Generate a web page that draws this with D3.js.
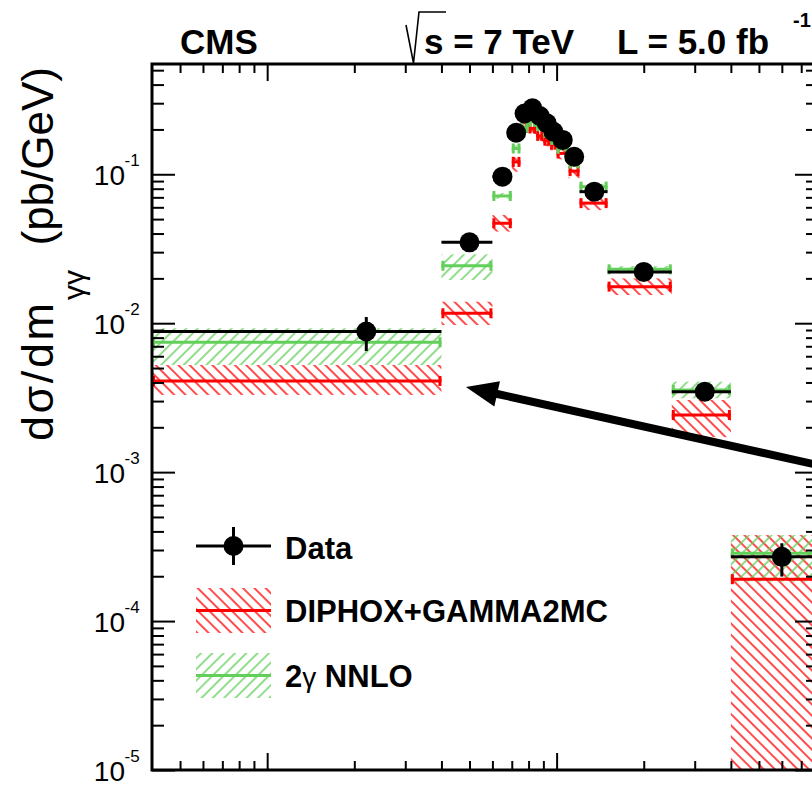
<!DOCTYPE html>
<html>
<head>
<meta charset="utf-8">
<script src="https://cdn.jsdelivr.net/npm/d3@7"></script>
<style>
  html, body { margin: 0; padding: 0; background: #fff; }
  svg { display: block; font-family: "Liberation Sans", Arial, Helvetica, sans-serif; }
</style>
</head>
<body>
<div id="chart"></div>
<script>
// ---------------- data ----------------
const binLo = [0, 40, 60, 70, 75, 80, 85, 90, 95, 100, 110, 120, 150, 250, 400];
const binHi = [40, 60, 70, 75, 80, 85, 90, 95, 100, 110, 120, 150, 250, 400, 800];
const dataX = [22, 50, 65, 72.5, 77.5, 82.5, 87.5, 92.5, 97.5, 105, 115, 135, 200, 325, 600];
const dataY = [8.8e-3, 0.0349, 0.0964, 0.190, 0.256, 0.277, 0.246, 0.220, 0.193, 0.170, 0.131, 0.0764, 0.0221, 3.47e-3, 2.70e-4];
const dataLo = [6.5e-3, 0.032, 0.089, 0.177, 0.240, 0.260, 0.231, 0.206, 0.180, 0.159, 0.122, 0.071, 0.0205, 3.06e-3, 1.99e-4];
const dataHi = [1.1e-2, 0.038, 0.104, 0.204, 0.273, 0.295, 0.262, 0.235, 0.206, 0.182, 0.141, 0.082, 0.0238, 3.9e-3, 3.33e-4];

const diphox   = [4.09e-3, 0.01166, 0.0469, 0.121, 0.205, 0.203, 0.181, 0.168, 0.158, 0.138, 0.105, 0.064, 0.0176, 2.42e-3, 1.91e-4];
const diphoxLo = [3.30e-3, 0.00973, 0.0412, 0.104, 0.188, 0.186, 0.166, 0.154, 0.145, 0.126, 0.094, 0.0575, 0.01545, 1.72e-3, 0];
const diphoxHi = [5.24e-3, 0.01394, 0.0533, 0.131, 0.222, 0.220, 0.196, 0.182, 0.171, 0.150, 0.115, 0.0697, 0.0200, 3.05e-3, 3.78e-4];

const nnlo   = [7.45e-3, 0.0243, 0.0715, 0.149, 0.205, 0.225, 0.210, 0.190, 0.170, 0.148, 0.118, 0.0826, 0.0230, 3.56e-3, 2.85e-4];
const nnloLo = [5.24e-3, 0.0195, 0.0685, 0.142, 0.196, 0.215, 0.200, 0.181, 0.162, 0.141, 0.112, 0.0790, 0.0219, 3.13e-3, 1.84e-4];
const nnloHi = [9.25e-3, 0.0290, 0.0750, 0.156, 0.214, 0.236, 0.220, 0.199, 0.178, 0.155, 0.124, 0.0862, 0.0242, 4.05e-3, 3.78e-4];

const xMajor = [10, 100];
const xMinor = [5, 6, 7, 8, 9, 20, 30, 40, 50, 60, 70, 80, 90, 200, 300, 400, 500, 600, 700];
const yMajor = [1e-5, 1e-4, 1e-3, 1e-2, 1e-1];
const yMajorExp = ["-5", "-4", "-3", "-2", "-1"];
const yMinorMult = [2, 3, 4, 5, 6, 7, 8, 9];

const legendLabels = ["Data", "DIPHOX+GAMMA2MC", "2γ NNLO"];
// annotation arrow (data coordinates): tail -> tip
const arrowTail = [881, 1.07e-3];
const arrowTip = [48.6, 3.73e-3];

// ---------------- layout ----------------
const W = 812, H = 789;
const L = 152, R = 818, T = 64, B = 770;
const RED = "#ff0000", GREEN = "#62cf5a";

const x = d3.scaleLog().domain([4, 800]).range([L, R]);
const y = d3.scaleLog().domain([1e-5, 0.55]).range([B, T]);
const yMinor = [];
for (let k = -5; k <= -1; k++) yMinorMult.forEach(m => { const v = m * Math.pow(10, k); if (v < 0.55) yMinor.push(v); });

const svg = d3.select("#chart").append("svg").attr("width", W).attr("height", H);
const defs = svg.append("defs");
function hatch(id, color, angle) {
  const p = defs.append("pattern").attr("id", id).attr("patternUnits", "userSpaceOnUse")
    .attr("width", 8).attr("height", 8).attr("patternTransform", `rotate(${angle})`);
  p.append("line").attr("x1", 4).attr("y1", -1).attr("x2", 4).attr("y2", 9)
    .attr("stroke", color).attr("stroke-width", 1.4);
}
hatch("hRed", RED, -45);
hatch("hGreen", GREEN, 45);
defs.append("clipPath").attr("id", "plotClip").append("rect")
  .attr("x", L).attr("y", T).attr("width", R - L).attr("height", B - T);

const xc = v => x(Math.max(v, 4));
const yc = v => y(Math.max(v, 1e-7));

const plot = svg.append("g").attr("clip-path", "url(#plotClip)");
const idx = d3.range(binLo.length);

// bands
function band(lo, hi, fill) {
  plot.append("g").selectAll("rect").data(idx).join("rect")
    .attr("x", i => xc(binLo[i])).attr("width", i => x(binHi[i]) - xc(binLo[i]))
    .attr("y", i => y(hi[i])).attr("height", i => yc(lo[i]) - y(hi[i]))
    .attr("fill", fill);
}
band(diphoxLo, diphoxHi, "url(#hRed)");
band(nnloLo, nnloHi, "url(#hGreen)");

// central lines with end caps
function centralLine(vals, color) {
  const g = plot.append("g").attr("stroke", color).attr("stroke-width", 3);
  g.selectAll("line.c").data(idx).join("line").attr("class", "c")
    .attr("x1", i => xc(binLo[i])).attr("x2", i => x(binHi[i]))
    .attr("y1", i => y(vals[i])).attr("y2", i => y(vals[i]));
  g.selectAll("line.l").data(idx).join("line").attr("class", "l")
    .attr("x1", i => xc(binLo[i]) + 1.5).attr("x2", i => xc(binLo[i]) + 1.5)
    .attr("y1", i => y(vals[i]) - 5).attr("y2", i => y(vals[i]) + 5);
  g.selectAll("line.r").data(idx).join("line").attr("class", "r")
    .attr("x1", i => x(binHi[i]) - 1.5).attr("x2", i => x(binHi[i]) - 1.5)
    .attr("y1", i => y(vals[i]) - 5).attr("y2", i => y(vals[i]) + 5);
}
centralLine(diphox, RED);
centralLine(nnlo, GREEN);

// data
const dg = plot.append("g");
dg.selectAll("line.h").data(idx).join("line").attr("class", "h")
  .attr("x1", i => xc(binLo[i])).attr("x2", i => x(binHi[i]))
  .attr("y1", i => y(dataY[i])).attr("y2", i => y(dataY[i]))
  .attr("stroke", "#000").attr("stroke-width", 3);
dg.selectAll("line.v").data(idx).join("line").attr("class", "v")
  .attr("x1", i => x(dataX[i])).attr("x2", i => x(dataX[i]))
  .attr("y1", i => y(dataHi[i])).attr("y2", i => y(dataLo[i]))
  .attr("stroke", "#000").attr("stroke-width", 3);
dg.selectAll("circle").data(idx).join("circle")
  .attr("cx", i => x(dataX[i])).attr("cy", i => y(dataY[i])).attr("r", 10).attr("fill", "#000");

// arrow
(function () {
  const x0 = x(arrowTail[0]), y0 = y(arrowTail[1]);
  const x1 = x(arrowTip[0]), y1 = y(arrowTip[1]);
  const ang = Math.atan2(y1 - y0, x1 - x0);
  const hl = 32, hw = 13;
  const bx = x1 - hl * Math.cos(ang), by = y1 - hl * Math.sin(ang);
  svg.append("line").attr("x1", x0).attr("y1", y0).attr("x2", bx + 2 * Math.cos(ang)).attr("y2", by + 2 * Math.sin(ang))
    .attr("stroke", "#000").attr("stroke-width", 8);
  const px = -Math.sin(ang), py = Math.cos(ang);
  svg.append("path").attr("d", `M${x1},${y1}L${bx + hw * px},${by + hw * py}L${bx - hw * px},${by - hw * py}Z`).attr("fill", "#000");
})();

// axes (ticks inside)
function styleAxis(g) {
  g.select(".domain").remove();
  g.selectAll("line").attr("stroke", "#000").attr("stroke-width", 2);
  g.selectAll("text").remove();
}
const nof = () => "";
svg.append("g").attr("transform", `translate(${L},0)`).call(d3.axisRight(y).tickValues(yMajor).tickSize(23).tickFormat(nof)).call(styleAxis);
svg.append("g").attr("transform", `translate(${L},0)`).call(d3.axisRight(y).tickValues(yMinor).tickSize(12).tickFormat(nof)).call(styleAxis);
svg.append("g").attr("transform", `translate(${R},0)`).call(d3.axisLeft(y).tickValues(yMajor).tickSize(23).tickFormat(nof)).call(styleAxis);
svg.append("g").attr("transform", `translate(${R},0)`).call(d3.axisLeft(y).tickValues(yMinor).tickSize(12).tickFormat(nof)).call(styleAxis);
svg.append("g").attr("transform", `translate(0,${B})`).call(d3.axisTop(x).tickValues(xMajor).tickSize(17).tickFormat(nof)).call(styleAxis);
svg.append("g").attr("transform", `translate(0,${B})`).call(d3.axisTop(x).tickValues(xMinor).tickSize(9).tickFormat(nof)).call(styleAxis);
svg.append("g").attr("transform", `translate(0,${T})`).call(d3.axisBottom(x).tickValues(xMajor).tickSize(17).tickFormat(nof)).call(styleAxis);
svg.append("g").attr("transform", `translate(0,${T})`).call(d3.axisBottom(x).tickValues(xMinor).tickSize(9).tickFormat(nof)).call(styleAxis);

// frame
svg.append("rect").attr("x", L).attr("y", T).attr("width", R - L).attr("height", B - T)
  .attr("fill", "none").attr("stroke", "#000").attr("stroke-width", 3);

// y tick labels
const yl = svg.append("g");
yMajor.forEach((v, i) => {
  yl.append("text").attr("x", 125).attr("y", y(v) + 10.5).attr("text-anchor", "end")
    .attr("font-size", 28).text("10");
  yl.append("text").attr("x", 124.5).attr("y", y(v) - 8.5).attr("font-size", 17).text(yMajorExp[i]);
});

// y title
const yt = svg.append("g");
yt.append("text").attr("transform", "translate(53,441) rotate(-90)").attr("font-size", 45)
  .attr("textLength", 138).attr("lengthAdjust", "spacing").text("dσ/dm");
yt.append("text").attr("transform", "translate(84,300) rotate(-90)").attr("font-size", 30).text("γγ");
yt.append("text").attr("transform", "translate(53,67) rotate(-90)").attr("font-size", 44).attr("text-anchor", "end").text("(pb/GeV)");

// header
const hd = svg.append("g").attr("font-weight", "bold");
hd.append("text").attr("x", 180).attr("y", 53.5).attr("font-size", 35).text("CMS");
hd.append("text").attr("x", 424).attr("y", 53.5).attr("font-size", 35).text("s = 7 TeV");
hd.append("text").attr("x", 617).attr("y", 53.5).attr("font-size", 35).text("L = 5.0 fb");
hd.append("text").attr("x", 793).attr("y", 27).attr("font-size", 20).text("-1");
svg.append("path").attr("d", "M406,25L413.5,63L419,12L446,12").attr("fill", "none").attr("stroke", "#000").attr("stroke-width", 1.6);

// legend
const lg = svg.append("g");
const lx0 = 196, lx1 = 271, lxm = 233.5;
lg.append("line").attr("x1", lx0).attr("x2", lx1).attr("y1", 546).attr("y2", 546).attr("stroke", "#000").attr("stroke-width", 3);
lg.append("line").attr("x1", lxm).attr("x2", lxm).attr("y1", 527).attr("y2", 565).attr("stroke", "#000").attr("stroke-width", 3);
lg.append("circle").attr("cx", lxm).attr("cy", 546).attr("r", 10).attr("fill", "#000");
lg.append("rect").attr("x", lx0).attr("y", 588).attr("width", lx1 - lx0).attr("height", 45).attr("fill", "url(#hRed)");
lg.append("line").attr("x1", lx0).attr("x2", lx1).attr("y1", 610.5).attr("y2", 610.5).attr("stroke", RED).attr("stroke-width", 3);
lg.append("rect").attr("x", lx0).attr("y", 653).attr("width", lx1 - lx0).attr("height", 45).attr("fill", "url(#hGreen)");
lg.append("line").attr("x1", lx0).attr("x2", lx1).attr("y1", 675.5).attr("y2", 675.5).attr("stroke", GREEN).attr("stroke-width", 3);
lg.append("text").attr("x", 285).attr("y", 559).attr("font-size", 31).attr("font-weight", "bold").text(legendLabels[0]);
lg.append("text").attr("x", 285).attr("y", 622).attr("font-size", 31).attr("font-weight", "bold").text(legendLabels[1]);
const t3 = lg.append("text").attr("x", 285).attr("y", 687).attr("font-size", 31).attr("font-weight", "bold");
const parts = legendLabels[2].split("γ");
t3.append("tspan").text(parts[0]);
t3.append("tspan").attr("font-weight", "normal").attr("font-size", 28).text("γ");
t3.append("tspan").text(parts[1]);
</script>
</body>
</html>
